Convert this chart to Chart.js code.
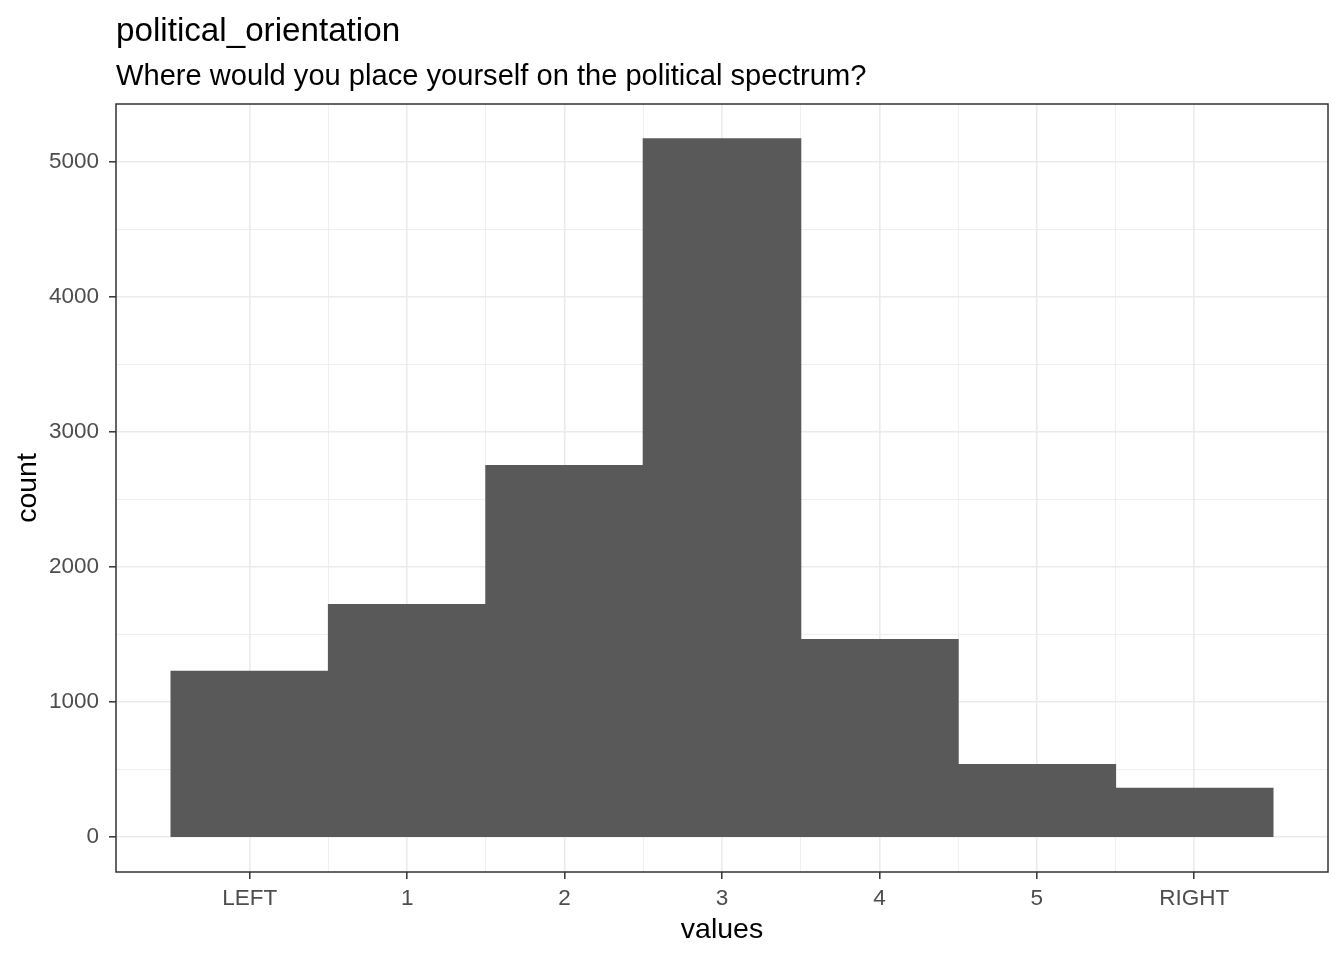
<!DOCTYPE html>
<html>
<head>
<meta charset="utf-8">
<title>political_orientation</title>
<script src="https://cdn.jsdelivr.net/npm/chart.js@4.4.1/dist/chart.umd.min.js"></script>
<style>
  html, body { margin: 0; padding: 0; background: #ffffff; }
  #wrap { width: 1344px; height: 960px; position: relative; }
</style>
</head>
<body>
<div id="wrap"><canvas id="histChart"></canvas></div>
<script>
// tick labels along x, one per bin
const categories = ['LEFT', '1', '2', '3', '4', '5', 'RIGHT'];
// bin positions on the x scale
const binPositions = [0, 1, 2, 3, 4, 5, 6];
// counts per bin
const counts = [1226, 1721, 2749, 5168, 1462, 537, 360];
// y tick values (majors labelled, minors only gridlines)
const yMajorTicks = [0, 1000, 2000, 3000, 4000, 5000];
const yMinorTicks = [500, 1500, 2500, 3500, 4500];
const xMinorTicks = [0.5, 1.5, 2.5, 3.5, 4.5, 5.5];

const titleText = 'political_orientation';
const subtitleText = 'Where would you place yourself on the political spectrum?';

const FONT = '"Liberation Sans", Arial, sans-serif';
const GRID = '#EBEBEB';
const DARK = '#333333';

const isMajor = (v, list) => list.indexOf(v) !== -1;

// ggplot-style titles and full panel border
const panelDecor = {
    id: 'panelDecor',
    afterDraw(chart) {
        const { ctx, chartArea } = chart;
        ctx.save();
        ctx.strokeStyle = DARK;
        ctx.lineWidth = 1.5;
        ctx.strokeRect(chartArea.left, chartArea.top,
            chartArea.right - chartArea.left, chartArea.bottom - chartArea.top);

        ctx.fillStyle = '#000000';
        ctx.textAlign = 'left';
        ctx.textBaseline = 'alphabetic';
        ctx.font = '33.2px ' + FONT;
        ctx.fillText(titleText, chartArea.left, 40.5);
        ctx.font = '29.1px ' + FONT;
        ctx.fillText(subtitleText, chartArea.left, 84.5);
        ctx.restore();
    }
};

const ctx = document.getElementById('histChart').getContext('2d');
new Chart(ctx, {
    type: 'bar',
    data: {
        datasets: [{
            label: 'count',
            data: binPositions.map((x, i) => ({ x: x, y: counts[i] })),
            backgroundColor: '#595959',
            borderWidth: 0,
            inflateAmount: 0.6,
            barThickness: 'flex',
            barPercentage: 1,
            categoryPercentage: 1
        }]
    },
    options: {
        responsive: true,
        maintainAspectRatio: false,
        animation: false,
        devicePixelRatio: 1,
        layout: { padding: { top: 104, right: 16, left: 0, bottom: 0 } },
        plugins: {
            legend: { display: false },
            tooltip: { enabled: false }
        },
        scales: {
            x: {
                type: 'linear',
                min: -0.85,
                max: 6.85,
                offset: false,
                afterFit: (scale) => { scale.height = 88; },
                afterBuildTicks: (scale) => {
                    scale.ticks = binPositions.concat(xMinorTicks)
                        .sort((a, b) => a - b)
                        .map(v => ({ value: v }));
                },
                grid: {
                    offset: false,
                    color: GRID,
                    lineWidth: (c) => isMajor(c.tick.value, binPositions) ? 1.6 : 0.8,
                    tickLength: 7,
                    tickColor: (c) => isMajor(c.tick.value, binPositions) ? DARK : 'rgba(0,0,0,0)',
                    tickWidth: 1.5
                },
                border: { display: false },
                ticks: {
                    autoSkip: false,
                    maxRotation: 0,
                    padding: 6,
                    color: '#4D4D4D',
                    font: { family: FONT, size: 22.5 },
                    callback: (v) => {
                        const i = binPositions.indexOf(v);
                        return i === -1 ? '' : categories[i];
                    }
                },
                title: {
                    display: true,
                    text: 'values',
                    color: '#000000',
                    font: { family: FONT, size: 28.5 },
                    padding: { top: 0, bottom: 13 }
                }
            },
            y: {
                min: -258.4,
                max: 5426.4,
                afterFit: (scale) => { scale.width = 116; },
                afterBuildTicks: (scale) => {
                    scale.ticks = yMajorTicks.concat(yMinorTicks)
                        .sort((a, b) => a - b)
                        .map(v => ({ value: v }));
                },
                grid: {
                    color: GRID,
                    lineWidth: (c) => isMajor(c.tick.value, yMajorTicks) ? 1.6 : 0.8,
                    tickLength: 7,
                    tickColor: (c) => isMajor(c.tick.value, yMajorTicks) ? DARK : 'rgba(0,0,0,0)',
                    tickWidth: 1.5
                },
                border: { display: false },
                ticks: {
                    padding: 10,
                    color: '#4D4D4D',
                    font: { family: FONT, size: 22.5 },
                    callback: (v) => isMajor(v, yMajorTicks) ? String(v) : ''
                },
                title: {
                    display: true,
                    text: 'count',
                    color: '#000000',
                    font: { family: FONT, size: 28.5 },
                    padding: { top: 11, bottom: 0 }
                }
            }
        }
    },
    plugins: [panelDecor]
});
</script>
</body>
</html>
